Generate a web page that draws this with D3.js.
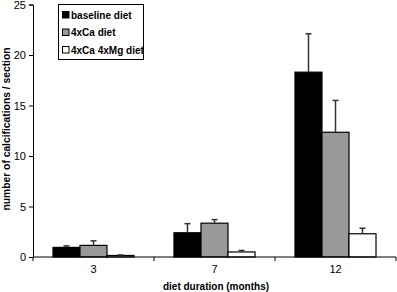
<!DOCTYPE html>
<html><head><meta charset="utf-8">
<script src="https://cdn.jsdelivr.net/npm/d3@7"></script>
<style>body{margin:0;background:#fff}svg{display:block}</style>
</head><body>
<svg id="c" width="397" height="292"></svg>
<script>
const categories = ["3", "7", "12"];
const seriesNames = ["baseline diet", "4xCa diet", "4xCa 4xMg diet"];
const baseline = [0.95, 2.4, 18.3];
const baselineErr = [0.15, 0.9, 3.8];
const ca = [1.15, 3.35, 12.35];
const caErr = [0.45, 0.35, 3.15];
const caMg = [0.15, 0.5, 2.3];
const caMgErr = [0.05, 0.15, 0.55];
const yTicks = [0, 5, 10, 15, 20, 25];
const colors = ["#000000", "#999999", "#ffffff"];

const series = [baseline, ca, caMg];
const errs = [baselineErr, caErr, caMgErr];

const svg = d3.select("#c");
const x0 = 33, x1 = 396, yTop = 4.5, yBot = 257;
const x = d3.scaleBand().domain(categories).range([x0, x1]).paddingInner(0).paddingOuter(0);
const y = d3.scaleLinear().domain([0, 25]).range([yBot, yTop]);
const inner = d3.scaleBand().domain(d3.range(3)).range([0, x.bandwidth()]).paddingInner(0).paddingOuter(0.74);

// bars
const g = svg.append("g");
series.forEach((s, si) => {
  g.selectAll(null).data(categories).enter().append("rect")
    .attr("x", d => x(d) + inner(si))
    .attr("y", (d, i) => y(s[i]))
    .attr("width", inner.bandwidth())
    .attr("height", (d, i) => yBot - y(s[i]))
    .attr("fill", colors[si]).attr("stroke", "#000").attr("stroke-width", 1.2);
});
// error bars
series.forEach((s, si) => {
  categories.forEach((c, i) => {
    const cx = x(c) + inner(si) + inner.bandwidth() / 2;
    g.append("line").attr("x1", cx).attr("x2", cx)
      .attr("y1", y(s[i])).attr("y2", y(s[i] + errs[si][i]))
      .attr("stroke", "#333").attr("stroke-width", 1.5);
    g.append("line").attr("x1", cx - 3).attr("x2", cx + 3)
      .attr("y1", y(s[i] + errs[si][i])).attr("y2", y(s[i] + errs[si][i]))
      .attr("stroke", "#333").attr("stroke-width", 1.5);
  });
});

// y axis
const ya = svg.append("g").attr("transform", `translate(${x0},0)`)
  .call(d3.axisLeft(y).tickValues(yTicks).tickSize(4).tickPadding(3));
ya.select(".domain").attr("stroke", "#000");
ya.selectAll("text").attr("font-family", "Liberation Sans, Arial, sans-serif").attr("font-size", 11).attr("fill", "#000");

// x axis: boundary ticks
const xa = svg.append("g");
xa.append("line").attr("x1", x0).attr("x2", x1).attr("y1", yBot).attr("y2", yBot).attr("stroke", "#000");
const bounds = categories.map(c => x(c)).concat([x(categories[categories.length - 1]) + x.bandwidth()]);
xa.selectAll(null).data(bounds).enter().append("line")
  .attr("x1", d => d).attr("x2", d => d).attr("y1", yBot).attr("y2", yBot + 4).attr("stroke", "#000");
xa.selectAll(null).data(categories).enter().append("text")
  .attr("x", d => x(d) + x.bandwidth() / 2).attr("y", 273)
  .attr("text-anchor", "middle").attr("font-family", "Liberation Sans, Arial, sans-serif")
  .attr("font-size", 11).text(d => d);

// axis titles
svg.append("text").attr("x", 216).attr("y", 290).attr("text-anchor", "middle")
  .attr("font-family", "Liberation Sans, Arial, sans-serif").attr("font-size", 10).attr("font-weight", "bold")
  .text("diet duration (months)");
svg.append("text").attr("transform", "translate(10,129) rotate(-90)").attr("text-anchor", "middle")
  .attr("font-family", "Liberation Sans, Arial, sans-serif").attr("font-size", 10.3).attr("font-weight", "bold")
  .text("number of calcifications / section");

// legend
const lg = svg.append("g");
lg.append("rect").attr("x", 58.5).attr("y", 4.5).attr("width", 85).attr("height", 55)
  .attr("fill", "#fff").attr("stroke", "#000");
seriesNames.forEach((n, i) => {
  const cy = 15 + i * 17.5;
  lg.append("rect").attr("x", 62.5).attr("y", cy - 3.5).attr("width", 6.5).attr("height", 6.5)
    .attr("fill", colors[i]).attr("stroke", "#000");
  lg.append("text").attr("x", 71).attr("y", cy + 3.5)
    .attr("font-family", "Liberation Sans, Arial, sans-serif").attr("font-size", 10).attr("font-weight", "bold")
    .text(n);
});
</script>
</body></html>
